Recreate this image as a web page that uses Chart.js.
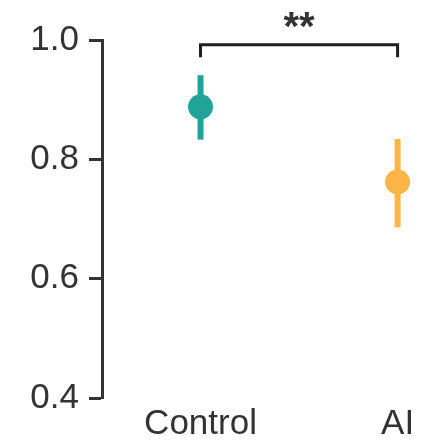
<!DOCTYPE html>
<html>
<head>
<meta charset="utf-8">
<script src="https://cdn.jsdelivr.net/npm/chart.js@4"></script>
<style>
  html, body { margin: 0; padding: 0; background: #ffffff; }
  #wrap { width: 441px; height: 440px; }
</style>
</head>
<body>
<div id="wrap"><canvas id="c" width="441" height="440"></canvas></div>
<script>
// ---- data ----
const categories = ['Control', 'AI'];
const means = [0.888, 0.762];
const lower = [0.833, 0.686];
const upper = [0.941, 0.834];
const colors = ['#21a39a', '#fdb547'];
const yTicks = [0.4, 0.6, 0.8, 1.0];
const bracketTop = 0.992;
const bracketLeg = 0.971;
const sigLabel = '**';
const sigLabelY = 1.0;

const datasets = [];
// mean markers
categories.forEach((c, i) => {
  datasets.push({
    label: c,
    data: [{ x: i, y: means[i] }],
    showLine: false,
    pointRadius: 12.5,
    pointHoverRadius: 12.5,
    pointBackgroundColor: colors[i],
    pointBorderWidth: 0,
    order: 0,
    clip: false
  });
});
// error bars
categories.forEach((c, i) => {
  datasets.push({
    label: c + ' CI',
    data: [{ x: i, y: lower[i] }, { x: i, y: upper[i] }],
    borderColor: colors[i],
    borderWidth: 6,
    borderCapStyle: 'butt',
    pointRadius: 0,
    order: 1,
    clip: false
  });
});
// significance bracket
datasets.push({
  label: 'bracket',
  data: [
    { x: 0, y: bracketLeg }, { x: 0, y: bracketTop },
    { x: 1, y: bracketTop }, { x: 1, y: bracketLeg }
  ],
  borderColor: '#1e1e1e',
  borderWidth: 3,
  borderCapStyle: 'butt',
  borderJoinStyle: 'miter',
  pointRadius: 0,
  order: 2,
  clip: false
});

const sigPlugin = {
  id: 'sig',
  afterDatasetsDraw(chart) {
    const { ctx, scales } = chart;
    ctx.save();
    ctx.fillStyle = '#333333';
    ctx.font = 'bold 40px "Liberation Sans", Arial, sans-serif';
    ctx.textAlign = 'center';
    ctx.textBaseline = 'alphabetic';
    ctx.fillText(sigLabel, scales.x.getPixelForValue(0.5), scales.y.getPixelForValue(sigLabelY));
    ctx.restore();
  }
};

new Chart(document.getElementById('c'), {
  type: 'line',
  data: { datasets },
  options: {
    responsive: false,
    animation: false,
    events: [],
    layout: { autoPadding: false, padding: { top: 40, right: 4, left: 0, bottom: 0 } },
    plugins: { legend: { display: false }, tooltip: { enabled: false } },
    scales: {
      x: {
        type: 'linear',
        min: -0.5,
        max: 1.2,
        afterBuildTicks: (s) => { s.ticks = categories.map((c, i) => ({ value: i })); },
        afterFit: (s) => { s.height = 42; s.paddingLeft = 0; s.paddingRight = 0; },
        grid: { display: false, drawTicks: false },
        border: { display: false },
        ticks: {
          callback: (v) => categories[v],
          color: '#333333',
          padding: 5,
          maxRotation: 0,
          autoSkip: false,
          font: { family: '"Liberation Sans", Arial, sans-serif', size: 35 }
        }
      },
      y: {
        type: 'linear',
        min: 0.4,
        max: 1.0,
        afterBuildTicks: (s) => { s.ticks = yTicks.map(v => ({ value: v })); },
        afterFit: (s) => { s.width = 102; },
        grid: {
          drawOnChartArea: false,
          drawTicks: true,
          tickLength: 13,
          tickWidth: 3,
          tickColor: '#333333'
        },
        border: { display: true, color: '#333333', width: 3 },
        ticks: {
          callback: (v) => Number(v).toFixed(1),
          color: '#333333',
          padding: 10,
          font: { family: '"Liberation Sans", Arial, sans-serif', size: 35 }
        }
      }
    }
  },
  plugins: [sigPlugin]
});
</script>
</body>
</html>
